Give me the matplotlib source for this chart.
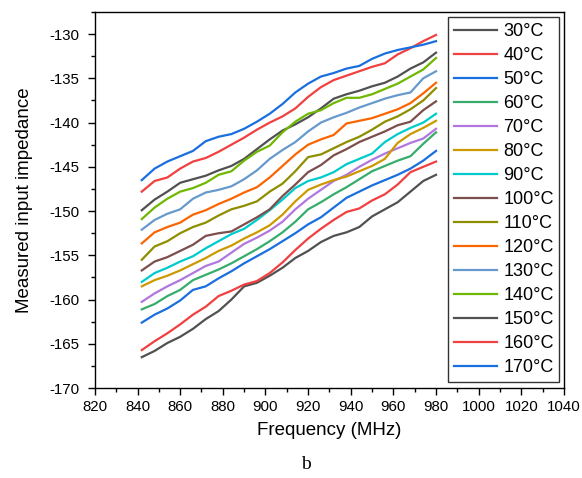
import numpy as np
import matplotlib
matplotlib.use("Agg")
from matplotlib import pyplot as plt, ticker

plt.rcParams["font.family"] = ["Liberation Sans", "DejaVu Sans"]

freq = np.arange(842, 981, 6)

temps = ["30°C", "40°C", "50°C", "60°C", "70°C", "80°C", "90°C", "100°C",
         "110°C", "120°C", "130°C", "140°C", "150°C", "160°C", "170°C"]

colors = ["#515151", "#F14040", "#1A6FDF", "#37AD6B", "#B177DE", "#CC9900",
          "#00CBCC", "#7D4E4E", "#8E8E00", "#FB6501", "#6699CC", "#6FB802",
          "#515151", "#F14040", "#1A6FDF"]

t30 = [-149.9, -148.7, -147.8, -146.8, -146.4, -146.0, -145.4, -144.9, -144.1, -143.0, -141.9, -140.9,
       -140.2, -139.4, -138.4, -137.3, -136.8, -136.4, -135.9, -135.5, -134.8, -133.9, -133.2, -132.1]
t40 = [-147.8, -146.6, -146.2, -145.2, -144.4, -144.0, -143.3, -142.5, -141.7, -140.8, -140.0, -139.3,
       -138.4, -137.1, -136.0, -135.2, -134.7, -134.2, -133.7, -133.3, -132.3, -131.6, -130.8, -130.1]
t50 = [-146.5, -145.2, -144.4, -143.8, -143.2, -142.1, -141.6, -141.3, -140.7, -139.9, -139.0, -137.9,
       -136.6, -135.6, -134.8, -134.4, -133.9, -133.6, -132.8, -132.2, -131.8, -131.5, -131.2, -130.8]
t60 = [-161.1, -160.5, -159.6, -158.9, -157.8, -157.2, -156.6, -155.9, -155.1, -154.3, -153.4, -152.4,
       -151.2, -149.8, -149.0, -148.1, -147.3, -146.4, -145.5, -144.9, -144.3, -143.8, -142.4, -141.1]
t70 = [-160.25, -159.3, -158.5, -157.8, -157.0, -156.2, -155.7, -154.7, -153.7, -153.0, -152.2, -151.2,
       -149.8, -148.6, -147.6, -146.6, -145.9, -145.0, -144.2, -143.5, -142.9, -142.3, -141.8, -140.7]
t80 = [-158.5, -157.8, -157.3, -156.7, -156.0, -155.3, -154.5, -153.9, -153.1, -152.4, -151.6, -150.4,
       -148.9, -147.6, -147.0, -146.5, -146.1, -145.5, -144.9, -144.1, -142.3, -141.3, -140.6, -139.8]
t90 = [-158.0, -157.0, -156.4, -155.7, -155.1, -154.2, -153.4, -152.6, -152.0, -151.0, -149.9, -148.7,
       -147.4, -146.6, -146.2, -145.6, -144.7, -144.1, -143.5, -142.2, -141.3, -140.6, -140.0, -139.0]
t100 = [-156.7, -155.7, -155.2, -154.5, -153.8, -152.8, -152.5, -152.3, -151.5, -150.7, -149.8, -148.3,
        -147.0, -145.6, -144.8, -143.7, -143.0, -142.2, -141.6, -141.0, -140.3, -139.9, -138.6, -137.6]
t110 = [-155.5, -154.0, -153.4, -152.5, -151.8, -151.3, -150.5, -149.8, -149.4, -148.9, -147.8, -146.9,
        -145.5, -143.9, -143.6, -142.9, -142.2, -141.6, -140.8, -139.9, -139.3, -138.5, -137.5, -136.1]
t120 = [-153.65, -152.4, -151.8, -151.3, -150.4, -149.9, -149.2, -148.6, -147.9, -147.3, -146.2, -144.9,
        -143.6, -142.5, -141.9, -141.4, -140.1, -139.8, -139.5, -139.0, -138.5, -137.8, -136.7, -135.5]
t130 = [-152.1, -151.0, -150.3, -149.8, -148.6, -147.9, -147.6, -147.2, -146.4, -145.4, -144.1, -143.1,
        -142.2, -141.0, -140.0, -139.4, -138.9, -138.3, -137.8, -137.3, -136.9, -136.6, -135.0, -134.2]
t140 = [-150.9, -149.6, -148.6, -147.8, -147.4, -146.8, -145.9, -145.5, -144.3, -143.3, -142.6, -141.1,
        -139.9, -139.0, -138.6, -137.8, -137.2, -137.2, -136.8, -136.2, -135.6, -134.8, -134.0, -132.7]
t150 = [-166.5, -165.8, -164.9, -164.2, -163.3, -162.2, -161.3, -160.0, -158.5, -158.1, -157.3, -156.4,
        -155.3, -154.5, -153.5, -152.8, -152.4, -151.8, -150.6, -149.8, -149.0, -147.8, -146.6, -145.9]
t160 = [-165.7, -164.7, -163.8, -162.8, -161.7, -160.8, -159.6, -159.0, -158.3, -157.9, -157.0, -155.8,
        -154.4, -153.1, -152.0, -151.0, -150.1, -149.7, -148.8, -148.1, -147.0, -145.6, -145.0, -144.4]
t170 = [-162.6, -161.7, -161.0, -160.1, -158.9, -158.5, -157.6, -156.8, -155.9, -155.1, -154.3, -153.4,
        -152.5, -151.5, -150.7, -149.6, -148.5, -147.8, -147.1, -146.5, -145.9, -145.2, -144.3, -143.2]

series = [t30, t40, t50, t60, t70, t80, t90, t100, t110, t120, t130, t140, t150, t160, t170]

fig = plt.figure(figsize=(5.82, 4.78), dpi=100)
ax = fig.add_axes([0.163, 0.188, 0.806, 0.787])

for label, col, vals in zip(temps, colors, series):
    ax.plot(freq, vals, color=col, lw=1.6, label=label)

ax.set_xlim(820, 1040)
ax.set_ylim(-170, -127.5)
ax.xaxis.set_major_locator(ticker.MultipleLocator(20))
ax.xaxis.set_minor_locator(ticker.MultipleLocator(10))
ax.yaxis.set_major_locator(ticker.MultipleLocator(5))
ax.yaxis.set_minor_locator(ticker.MultipleLocator(2.5))
ax.tick_params(which="major", direction="out", length=5, width=1, labelsize=10.8)
ax.tick_params(which="minor", direction="out", length=3, width=1)
ax.tick_params(axis="y", pad=6)
ax.yaxis.set_major_formatter(ticker.FuncFormatter(lambda v, p: "%d" % v))
for s in ax.spines.values():
    s.set_linewidth(1.0)

ax.set_xlabel("Frequency (MHz)", fontsize=13.5, labelpad=6)
ax.set_ylabel("Measured input impedance", fontsize=13.5, labelpad=12)

leg = ax.legend(loc="upper right", bbox_to_anchor=(0.998, 0.995), fontsize=13, frameon=True,
                fancybox=False, edgecolor="black", handlelength=2.4, handletextpad=0.35,
                labelspacing=0.39, borderpad=0.3, borderaxespad=0.2)
leg.get_frame().set_linewidth(1.0)

fig.text(0.526, 0.018, "b", fontsize=14, family="Liberation Serif", ha="center")

fig.savefig("out.png", dpi=100)
